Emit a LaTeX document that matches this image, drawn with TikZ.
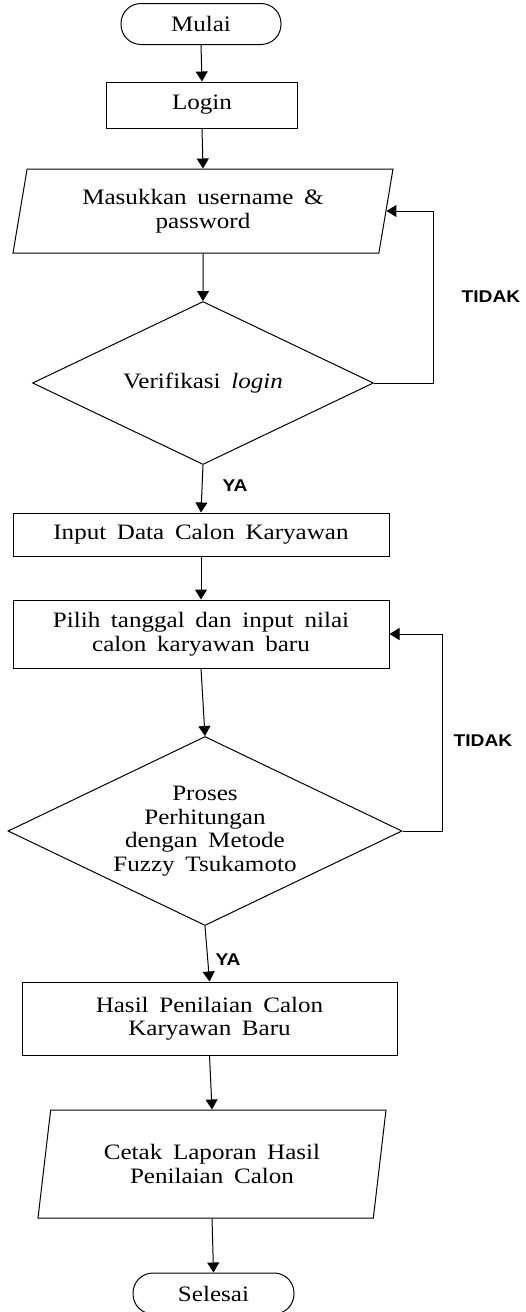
\documentclass[tikz,border=0pt]{standalone}
\usepackage{fontspec}
\setmainfont{Liberation Serif}[FakeStretch=1.14,WordSpace=1.7]
\newfontfamily\ketfont{Liberation Sans}[FakeStretch=1.13]
\usetikzlibrary{shapes.geometric,arrows.meta}

\begin{document}
\begin{tikzpicture}[
        >={Triangle[length=10pt,width=12pt]},
        x=1pt,y=-1pt,
        line width=1pt,
        every node/.style={font=\fontsize{22}{23.5}\selectfont,align=center},
        terminal/.style={draw,rounded corners=20pt,minimum width=160pt,minimum height=41pt,inner sep=0pt},
        kotak/.style={draw,rectangle,minimum width=376pt,inner sep=0pt},
        io/.style={draw,trapezium,trapezium left angle=72,trapezium right angle=108,trapezium stretches body=true,inner sep=0pt},
        keputusan/.style={draw,diamond,aspect=2.08,inner sep=0pt},
        ket/.style={font=\ketfont\bfseries\fontsize{17}{19}\selectfont},
        ]
        \useasboundingbox (0,0) rectangle (526,1312);
        \node[terminal] (mulai) at (201,24){Mulai};
        \node[kotak,minimum width=191pt,minimum height=46pt] (login) at (202,105){Login};
        \node[io,minimum width=380pt,minimum height=84pt] (masuk) at (203,211){Masukkan username \&\\password};
        \node[keputusan,minimum width=341pt,minimum height=163pt] (verif) at (203,383){Verifikasi \textit{login}};
        \node[kotak,minimum height=43pt] (input) at (201,534.5){Input Data Calon Karyawan};
        \node[kotak,minimum height=68pt] (pilih) at (201,634){Pilih tanggal dan input nilai\\calon karyawan baru};
        \node[keputusan,minimum width=394pt,minimum height=189pt] (proses) at (205,831){Proses\\Perhitungan\\dengan Metode\\Fuzzy Tsukamoto};
        \node[kotak,minimum width=375pt,minimum height=73pt] (hasil) at (209.5,1018.5){Hasil Penilaian Calon\\Karyawan Baru};
        \node[io,minimum width=348pt,minimum height=108pt] (cetak) at (212,1164){Cetak Laporan Hasil\\Penilaian Calon};
        \node[terminal,minimum width=161pt] (selesai) at (213.5,1293.5){Selesai};
        % keterangan
        \node[ket] (tidak1) at (491,297){TIDAK};
        \node[ket] (tidak2) at (483,741){TIDAK};
        \node[ket] (ya1) at (235,486){YA};
        \node[ket] (ya2) at (228,960){YA};
        \coordinate (balik1) at (433,0);
        \coordinate (balik2) at (442,0);
        % alur
        \draw[->] (mulai.south) -- (login.north);
        \draw[->] (login.south) -- (masuk.north);
        \draw[->] (masuk.south) -- (verif.north);
        \draw[->] (verif.south) -- (input.north);
        \draw[->] (verif.east) -- (verif.east -| balik1) |- (masuk.east);
        \draw[->] (input.south) -- (pilih.north);
        \draw[->] (pilih.south) -- (proses.north);
        \draw[->] (proses.east) -- (proses.east -| balik2) |- (pilih.east);
        \draw[->] (proses.south) -- (hasil.north);
        \draw[->] (hasil.south) -- (cetak.north);
        \draw[->] (cetak.south) -- (selesai.north);
\end{tikzpicture}
\end{document}
